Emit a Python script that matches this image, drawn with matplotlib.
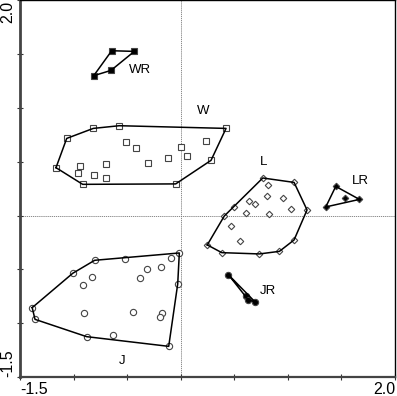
import numpy as np
import matplotlib
matplotlib.use("Agg")
import matplotlib.pyplot as plt

plt.rcParams['font.family'] = ['Liberation Sans', 'DejaVu Sans']

# group W (open squares)
w_x = [-1.064, -0.816, -0.573, 0.423, 0.283, -0.047, -0.915, -1.164,
       -0.511, -0.420, 0.000, 0.056, -0.121, -0.303, -0.700, -0.943, -0.962, -0.810, -0.695, 0.236]
w_y = [0.718, 0.811, 0.836, 0.811, 0.514, 0.295, 0.291, 0.446,
       0.681, 0.625, 0.634, 0.558, 0.533, 0.486, 0.476, 0.465, 0.397, 0.375, 0.347, 0.697]
# group WR (filled squares)
wr_x = [-0.644, -0.433, -0.651, -0.812]
wr_y = [1.533, 1.527, 1.350, 1.301]
# group L (open diamonds)
l_x = [0.766, 1.058, 1.179, 1.058, 0.921, 0.734, 0.383, 0.248, 0.407, 0.498,
       0.818, 0.806, 0.955, 0.641, 0.697, 1.030, 0.610, 0.827, 0.467, 0.554]
l_y = [0.350, 0.309, 0.053, -0.226, -0.332, -0.356, -0.344, -0.272, -0.003, 0.084,
       0.282, 0.186, 0.161, 0.133, 0.105, 0.059, 0.021, 0.012, -0.099, -0.239]
# group LR (filled diamonds)
lr_x = [1.447, 1.668, 1.354, 1.537]
lr_y = [0.272, 0.151, 0.081, 0.161]
# group J (open circles)
j_x = [-0.013, -0.028, -0.112, -0.878, -1.360, -1.386, -1.008, -0.803, -0.517,
       -0.091, -0.187, -0.317, -0.383, -0.831, -0.915, -0.903, -0.445, -0.175, -0.196, -0.632]
j_y = [-0.347, -0.635, -1.215, -1.125, -0.964, -0.855, -0.536, -0.415, -0.402,
       -0.397, -0.474, -0.499, -0.576, -0.567, -0.641, -0.904, -0.892, -0.904, -0.945, -1.106]
# group JR (filled circles)
jr_x = [0.444, 0.607, 0.631, 0.694]
jr_y = [-0.548, -0.750, -0.783, -0.802]

group_labels = ["W", "WR", "L", "LR", "J", "JR"]
label_x = [0.21, -0.38, 0.771, 1.674, -0.551, 0.818]
label_y = [0.97, 1.35, 0.495, 0.325, -1.348, -0.697]


def hull(xs, ys):
    pts = sorted(set(zip(xs, ys)))
    def cross(o, a, b):
        return (a[0] - o[0]) * (b[1] - o[1]) - (a[1] - o[1]) * (b[0] - o[0])
    lower, upper = [], []
    for p in pts:
        while len(lower) >= 2 and cross(lower[-2], lower[-1], p) <= 0:
            lower.pop()
        lower.append(p)
    for p in reversed(pts):
        while len(upper) >= 2 and cross(upper[-2], upper[-1], p) <= 0:
            upper.pop()
        upper.append(p)
    h = lower[:-1] + upper[:-1]
    h.append(h[0])
    return [p[0] for p in h], [p[1] for p in h]


fig = plt.figure(figsize=(3.97, 3.96), dpi=100)
ax = fig.add_axes([20 / 397, 19 / 396, 375 / 397, 376.5 / 396])

ax.axvline(0, color="#777777", lw=0.6, ls=(0, (1.5, 1)), zorder=0)
ax.axhline(0, color="#777777", lw=0.6, ls=(0, (1.5, 1)), zorder=0)

groups = [
    (w_x, w_y, "s", "white", 4.3),
    (wr_x, wr_y, "s", "black", 4.6),
    (l_x, l_y, "D", "white", 3.3),
    (lr_x, lr_y, "D", "black", 3.3),
    (j_x, j_y, "o", "white", 4.5),
    (jr_x, jr_y, "o", "black", 4.5),
]
for xs, ys, m, fc, ms in groups:
    ax.plot(xs, ys, ls="none", marker=m, ms=ms, mfc=fc, mec="#444444", mew=0.8, zorder=2)
    hx, hy = hull(xs, ys)
    ax.plot(hx, hy, color="black", lw=1.1, zorder=3)

for t, x, y in zip(group_labels, label_x, label_y):
    ax.text(x, y, t, fontsize=9.5, ha="center", va="center")

ax.set_xlim(-1.5, 2.0)
ax.set_ylim(-1.5, 2.0)
ax.set_xticks(np.arange(-1.5, 2.01, 0.5))
ax.set_yticks(np.arange(-1.5, 2.01, 0.5))
ax.set_xticklabels(["-1.5", "", "", "", "", "", "", "2.0"])
ax.set_yticklabels(["-1.5", "", "", "", "", "", "", "2.0"], rotation=90)
ax.tick_params(direction="inout", length=4, width=0.8, labelsize=11.5, pad=1.5,
               colors="#333333", labelcolor="black")
xl = ax.get_xticklabels()
xl[0].set_ha("left")
xl[-1].set_ha("right")
yl = ax.get_yticklabels()
yl[0].set_va("bottom")
yl[-1].set_va("top")

ax.spines["left"].set_linewidth(2)
ax.spines["left"].set_color("#444444")
ax.spines["bottom"].set_linewidth(1.6)
ax.spines["bottom"].set_color("#444444")
ax.spines["top"].set_linewidth(1)
ax.spines["right"].set_linewidth(1)

fig.savefig("out.png", dpi=100)
